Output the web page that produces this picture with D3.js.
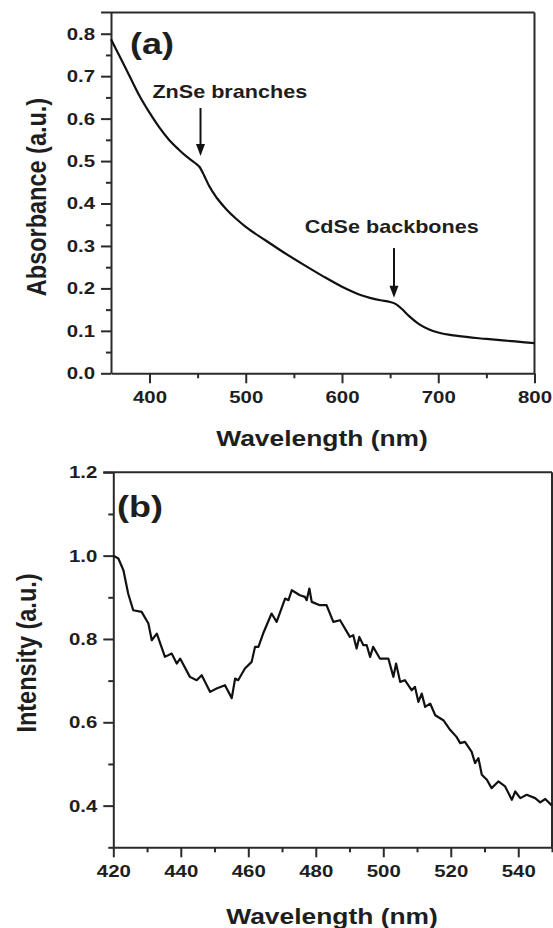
<!DOCTYPE html>
<html><head><meta charset="utf-8">
<script src="https://cdn.jsdelivr.net/npm/d3@7"></script>
<style>
body{margin:0;background:#fff}
text{font-family:"Liberation Sans",Arial,Helvetica,sans-serif;font-weight:bold;fill:#1e1e1e}
</style>
</head><body>
<svg id="chart" width="553" height="928"></svg>
<script>
// ---------- Panel (a): absorbance ----------
const absWavelength = [360,370,380,390,400,410,420,430,440,447,452,457,462,470,480,490,500,520,540,560,580,600,620,640,650,656,662,670,680,690,700,720,750,780,800];
const absValue      = [0.787,0.742,0.697,0.652,0.614,0.580,0.551,0.528,0.508,0.496,0.486,0.465,0.441,0.413,0.386,0.364,0.345,0.314,0.284,0.256,0.229,0.204,0.184,0.172,0.168,0.163,0.152,0.134,0.116,0.104,0.096,0.088,0.081,0.075,0.071];
const absXTicks = [400,500,600,700,800];
const absXMinor = [450,550,650,750];
const absYTicks = [0,0.1,0.2,0.3,0.4,0.5,0.6,0.7,0.8];
const absYMinor = [0.05,0.15,0.25,0.35,0.45,0.55,0.65,0.75];
const annotations = [
  {text:"ZnSe branches",  arrowAt:453, arrowFrom:0.625, arrowTo:0.512, textAt:403,   textLevel:0.649},
  {text:"CdSe backbones", arrowAt:654, arrowFrom:0.295, arrowTo:0.178, textAt:561.3, textLevel:0.331}
];

// ---------- Panel (b): photoluminescence ----------
const plWavelength = [420,421.5,423,424.4,425.9,428.4,430.4,431.4,432.9,435.3,437.3,438.8,439.8,442.7,444.7,446.2,448.7,450.6,453.1,455.1,456.1,457,459,461,462,463,464.4,466.9,468.4,470.9,471.9,472.9,475.3,476.8,477.3,478.1,478.8,481.2,483.2,485.2,487.2,490.1,491.1,492.1,492.9,494.1,495.1,496.1,497,499,501.5,503,503.8,505,506.4,508.4,509.4,510.4,511.4,512.4,513.9,515.4,517.8,519.8,521.7,522.8,524.2,526.2,527.2,528.2,529.2,530.7,532.1,534.1,536.1,538.1,539.1,540.6,542.5,545,546.5,548,550];
const plIntensity  = [1.0,0.993,0.965,0.909,0.869,0.865,0.837,0.797,0.813,0.757,0.765,0.741,0.753,0.709,0.701,0.713,0.673,0.681,0.689,0.658,0.705,0.701,0.729,0.745,0.781,0.781,0.813,0.861,0.841,0.897,0.893,0.917,0.905,0.901,0.893,0.921,0.889,0.881,0.881,0.841,0.845,0.805,0.809,0.777,0.805,0.785,0.785,0.757,0.781,0.753,0.753,0.709,0.741,0.697,0.701,0.677,0.685,0.649,0.669,0.637,0.645,0.617,0.605,0.582,0.565,0.55,0.553,0.529,0.502,0.514,0.474,0.462,0.442,0.458,0.446,0.414,0.434,0.418,0.426,0.418,0.408,0.416,0.40];
const plXTicks = [420,440,460,480,500,520,540];
const plXMinor = [430,450,470,490,510,530,550];
const plYTicks = [0.4,0.6,0.8,1.0,1.2];
const plYMinor = [0.3,0.5,0.7,0.9,1.1];

const SX = 1.2;               // horizontal stretch of the original figure's lettering
const AX = "#2a2a2a";
const svg = d3.select("#chart");

function stretchTicks(g){
  g.selectAll(".tick text").each(function(){
    const t = d3.select(this);
    const x = +t.attr("x") || 0, y = +t.attr("y") || 0;
    t.attr("transform", `translate(${x},${y}) scale(${SX},1)`).attr("x",0).attr("y",0);
  });
}
function styleAxis(g){
  g.selectAll("path,line").attr("stroke",AX).attr("stroke-width",2);
  g.selectAll("text").attr("font-size",17).attr("fill","#1e1e1e")
    .attr("font-family",'"Liberation Sans",Arial,sans-serif').attr("font-weight","bold");
}

function panel(cfg){
  const x = d3.scaleLinear().domain(cfg.xDomain).range(cfg.xRange);
  const y = d3.scaleLinear().domain(cfg.yDomain).range(cfg.yRange);
  const g = svg.append("g");
  const [x0,x1] = cfg.xRange, [yb,yt] = cfg.yRange;

  // frame top/right
  g.append("line").attr("x1",x0-10).attr("x2",x1).attr("y1",yt).attr("y2",yt).attr("stroke",AX).attr("stroke-width",2);
  g.append("line").attr("x1",x1).attr("x2",x1).attr("y1",yt).attr("y2",yb).attr("stroke",AX).attr("stroke-width",2);

  // minor ticks
  const xm = g.append("g").attr("transform",`translate(0,${yb})`)
    .call(d3.axisBottom(x).tickValues(cfg.xMinor).tickSize(5).tickSizeOuter(0).tickFormat(""));
  xm.select(".domain").remove(); styleAxis(xm);
  const ym = g.append("g").attr("transform",`translate(${x0},0)`)
    .call(d3.axisLeft(y).tickValues(cfg.yMinor).tickSize(5).tickSizeOuter(0).tickFormat(""));
  ym.select(".domain").remove(); styleAxis(ym);

  // major axes
  const xa = g.append("g").attr("transform",`translate(0,${yb})`)
    .call(d3.axisBottom(x).tickValues(cfg.xTicks).tickSize(10).tickSizeOuter(0).tickPadding(8).tickFormat(d3.format("d")));
  styleAxis(xa); stretchTicks(xa);
  const ya = g.append("g").attr("transform",`translate(${x0},0)`)
    .call(d3.axisLeft(y).tickValues(cfg.yTicks).tickSize(10).tickSizeOuter(0).tickPadding(6).tickFormat(d3.format(".1f")));
  styleAxis(ya); stretchTicks(ya);

  // axis titles
  g.append("text").attr("text-anchor","middle").attr("font-size",22)
    .attr("transform",`translate(${cfg.xTitlePos[0]},${cfg.xTitlePos[1]}) scale(${SX},1)`).text("Wavelength (nm)");
  g.append("text").attr("text-anchor","middle").attr("font-size",23.5)
    .attr("transform",`translate(${cfg.yTitlePos[0]},${cfg.yTitlePos[1]}) scale(${SX},1) rotate(-90)`).text(cfg.yTitle);

  // panel label
  g.append("text").attr("font-size",30)
    .attr("transform",`translate(${cfg.labelPos[0]},${cfg.labelPos[1]}) scale(${SX},1)`).text(cfg.label);

  // curve
  const line = d3.line().x(d=>x(d[0])).y(d=>y(d[1])).curve(cfg.curve);
  g.append("path").datum(cfg.xs.map((v,i)=>[v,cfg.ys[i]]))
    .attr("d",line).attr("fill","none").attr("stroke","#111").attr("stroke-width",2.2).attr("stroke-linejoin","round");
  return {x,y,g};
}

const a = panel({
  xDomain:[360,800], xRange:[111,534.5], yDomain:[0,0.85], yRange:[373.3,12.5],
  xTicks:absXTicks, xMinor:absXMinor, yTicks:absYTicks, yMinor:absYMinor,
  xs:absWavelength, ys:absValue, curve:d3.curveMonotoneX,
  yTitle:"Absorbance (a.u.)", xTitlePos:[322,446], yTitlePos:[46,197],
  label:"(a)", labelPos:[130,54]
});
const b = panel({
  xDomain:[420,550], xRange:[113.3,552], yDomain:[0.3,1.2], yRange:[847.3,472.3],
  xTicks:plXTicks, xMinor:plXMinor, yTicks:plYTicks, yMinor:plYMinor,
  xs:plWavelength, ys:plIntensity, curve:d3.curveLinear,
  yTitle:"Intensity (a.u.)", xTitlePos:[332,924], yTitlePos:[36,653],
  label:"(b)", labelPos:[117,517]
});

// annotations with arrows (panel a)
annotations.forEach(an=>{
  const ax = a.x(an.arrowAt), yf = a.y(an.arrowFrom), yt = a.y(an.arrowTo);
  a.g.append("line").attr("x1",ax).attr("x2",ax).attr("y1",yf).attr("y2",yt-10)
    .attr("stroke","#111").attr("stroke-width",2);
  a.g.append("path").attr("d",`M${ax-4.5},${yt-12} L${ax+4.5},${yt-12} L${ax},${yt} Z`).attr("fill","#111");
  a.g.append("text").attr("font-size",18)
    .attr("transform",`translate(${a.x(an.textAt)},${a.y(an.textLevel)}) scale(${SX},1)`).text(an.text);
});
</script>
</body></html>
